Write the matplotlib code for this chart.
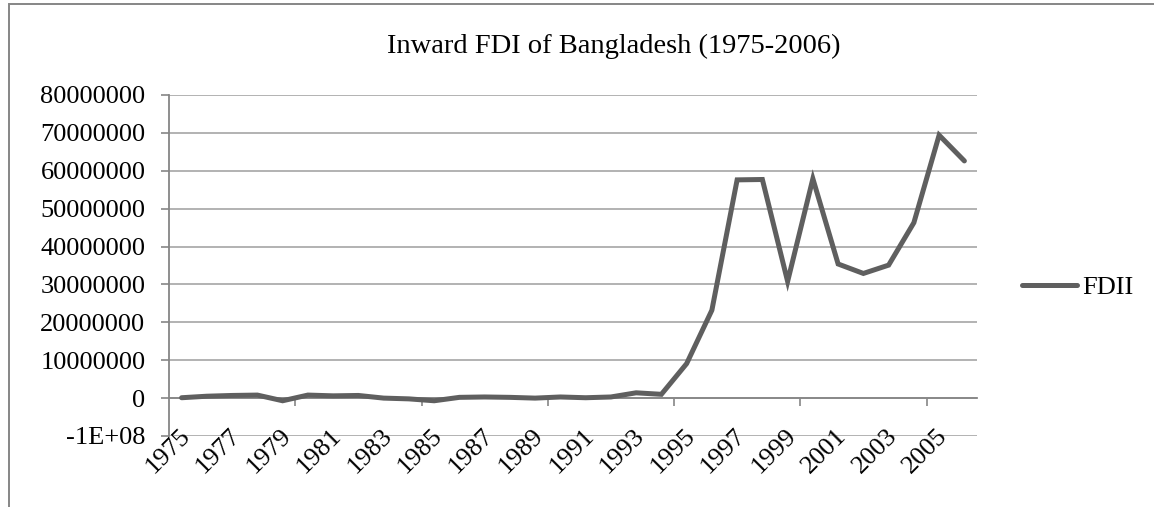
import matplotlib
matplotlib.use("Agg")
import matplotlib.pyplot as plt
from matplotlib.patches import Rectangle

# data (US$)
years = list(range(1975, 2007))
fdi = [0.1e6, 0.5e6, 0.7e6, 0.8e6, -0.7e6, 0.8e6, 0.6e6, 0.7e6,
       0.0e6, -0.2e6, -0.7e6, 0.2e6, 0.3e6, 0.2e6, 0.0e6, 0.3e6,
       0.1e6, 0.3e6, 1.4e6, 1.0e6, 9.1e6, 23.2e6, 57.6e6, 57.7e6,
       30.8e6, 57.9e6, 35.4e6, 32.9e6, 35.1e6, 46.3e6, 69.4e6, 62.6e6]
ytick_vals = [-10000000, 0, 10000000, 20000000, 30000000, 40000000,
              50000000, 60000000, 70000000, 80000000]
ytick_labels = ["-1E+08", "0", "10000000", "20000000", "30000000", "40000000",
                "50000000", "60000000", "70000000", "80000000"]
xlabel_years = years[::2]
title = "Inward FDI of Bangladesh (1975-2006)"
series_name = "FDII"

plt.rcParams['font.family'] = ['Liberation Serif', 'DejaVu Serif']

W, H = 1154, 507
fig = plt.figure(figsize=(W / 100, H / 100), dpi=100)
ax = fig.add_axes([169 / W, 1 - 436 / H, (977 - 169) / W, (436 - 95) / H])

idx = list(range(len(years)))
line_col = "#5f5f5f"
axis_col = "#868686"
grid_col = "#a6a6a6"

ax.plot(idx, fdi, color=line_col, lw=3.6, solid_capstyle="round",
        solid_joinstyle="miter", label=series_name, zorder=3)

ax.set_xlim(-0.5, len(years) - 0.5)
ax.set_ylim(ytick_vals[0], ytick_vals[-1])

# y axis
ax.set_yticks(ytick_vals)
ax.set_yticklabels(ytick_labels, fontsize=19)
ax.tick_params(axis="y", length=6, width=1.2, color=axis_col, pad=11)
ax.yaxis.grid(True, color=grid_col, lw=1.2, zorder=0)
ax.set_axisbelow(True)

# category axis crosses at zero, tick marks every 5 categories
ax.spines["bottom"].set_position(("data", 0))
ax.spines["bottom"].set_color(axis_col)
ax.spines["bottom"].set_linewidth(1.3)
ax.spines["left"].set_color(axis_col)
ax.spines["left"].set_linewidth(1.3)
ax.spines["top"].set_visible(False)
ax.spines["right"].set_visible(False)
ax.set_xticks([i + 0.5 for i in idx[4:-1:5]])
ax.set_xticklabels([])
ax.tick_params(axis="x", length=5.5, width=1.2, color=axis_col)

# year labels below the plot, every second year
for yr in xlabel_years:
    ax.annotate(str(yr), xy=(years.index(yr), ytick_vals[0]),
                xytext=(-2, 8), textcoords="offset points",
                rotation=45, rotation_mode="anchor", ha="right", va="top",
                fontsize=19, annotation_clip=False)

fig.text(614 / W, 1 - 46 / H, title, ha="center", va="center", fontsize=20.5)

fig.legend(loc="center left", bbox_to_anchor=(1022 / W, 1 - 287 / H),
           frameon=False, fontsize=19, handlelength=2.1, handletextpad=0.2,
           borderpad=0, borderaxespad=0)

# chart border (only top and left edges are in view)
fig.add_artist(Rectangle((9 / W, -0.1), 1.2, 1.1 - 4 / H, transform=fig.transFigure,
                         fill=False, ec=axis_col, lw=1.4))

fig.savefig("out.png", dpi=100)
